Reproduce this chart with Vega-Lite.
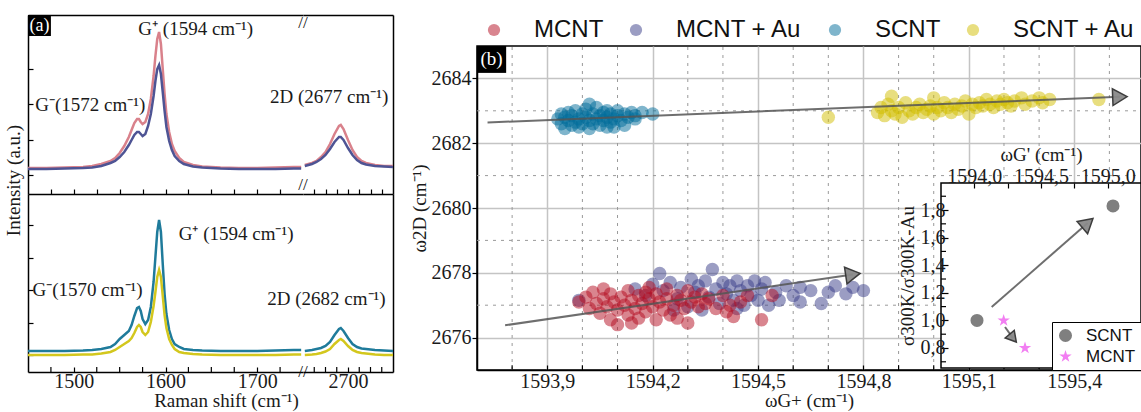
{
"$schema": "https://vega.github.io/schema/vega-lite/v6.json",
"padding": {"left": 4, "top": 12, "right": 0, "bottom": 0},
"background": "white",
"config": {
  "view": {"stroke": null},
  "axis": {"labelFont": "Liberation Serif", "titleFont": "Liberation Serif", "labelFontSize": 20, "titleFontSize": 19, "titleFontWeight": "normal", "labelColor": "#1a1a1a", "titleColor": "#1a1a1a", "domainColor": "#000", "domainWidth": 1.5, "tickColor": "#000", "tickWidth": 1.2, "grid": false, "labelOverlap": false, "labelFlush": false},
  "text": {"font": "Liberation Serif"}
},
"datasets": {
  "spectra": [
    {"shift": 1450, "MCNT": 26, "MCNT + Au": 25, "SCNT": 21, "SCNT + Au": 17},
    {"shift": 1470, "MCNT": 26, "MCNT + Au": 25, "SCNT": 21, "SCNT + Au": 17},
    {"shift": 1490, "MCNT": 26.5, "MCNT + Au": 25.5, "SCNT": 21, "SCNT + Au": 17},
    {"shift": 1510, "MCNT": 27, "MCNT + Au": 26, "SCNT": 21.5, "SCNT + Au": 17.5},
    {"shift": 1520, "MCNT": 28, "MCNT + Au": 26.5, "SCNT": 22, "SCNT + Au": 17.5},
    {"shift": 1530, "MCNT": 30, "MCNT + Au": 28, "SCNT": 23, "SCNT + Au": 18.5},
    {"shift": 1540, "MCNT": 33, "MCNT + Au": 31, "SCNT": 25, "SCNT + Au": 20},
    {"shift": 1545, "MCNT": 36, "MCNT + Au": 33, "SCNT": 28, "SCNT + Au": 22},
    {"shift": 1550, "MCNT": 41, "MCNT + Au": 37, "SCNT": 33, "SCNT + Au": 25},
    {"shift": 1555, "MCNT": 48, "MCNT + Au": 42, "SCNT": 37, "SCNT + Au": 28},
    {"shift": 1560, "MCNT": 57, "MCNT + Au": 49, "SCNT": 41, "SCNT + Au": 31},
    {"shift": 1563, "MCNT": 64, "MCNT + Au": 54, "SCNT": 47, "SCNT + Au": 34},
    {"shift": 1566, "MCNT": 71, "MCNT + Au": 59, "SCNT": 56, "SCNT + Au": 39},
    {"shift": 1569, "MCNT": 75, "MCNT + Au": 62, "SCNT": 64, "SCNT + Au": 45},
    {"shift": 1571, "MCNT": 75, "MCNT + Au": 62, "SCNT": 65, "SCNT + Au": 47},
    {"shift": 1573, "MCNT": 72, "MCNT + Au": 60, "SCNT": 61, "SCNT + Au": 45},
    {"shift": 1575, "MCNT": 70, "MCNT + Au": 58, "SCNT": 53, "SCNT + Au": 40},
    {"shift": 1578, "MCNT": 72, "MCNT + Au": 60, "SCNT": 48, "SCNT + Au": 37},
    {"shift": 1581, "MCNT": 80, "MCNT + Au": 68, "SCNT": 52, "SCNT + Au": 40},
    {"shift": 1584, "MCNT": 95, "MCNT + Au": 80, "SCNT": 65, "SCNT + Au": 50},
    {"shift": 1587, "MCNT": 118, "MCNT + Au": 98, "SCNT": 90, "SCNT + Au": 66},
    {"shift": 1589, "MCNT": 138, "MCNT + Au": 113, "SCNT": 115, "SCNT + Au": 80},
    {"shift": 1591, "MCNT": 155, "MCNT + Au": 125, "SCNT": 140, "SCNT + Au": 95},
    {"shift": 1593, "MCNT": 162, "MCNT + Au": 129, "SCNT": 152, "SCNT + Au": 102},
    {"shift": 1595, "MCNT": 150, "MCNT + Au": 120, "SCNT": 140, "SCNT + Au": 95},
    {"shift": 1597, "MCNT": 125, "MCNT + Au": 102, "SCNT": 108, "SCNT + Au": 76},
    {"shift": 1599, "MCNT": 100, "MCNT + Au": 83, "SCNT": 78, "SCNT + Au": 57},
    {"shift": 1601, "MCNT": 80, "MCNT + Au": 67, "SCNT": 58, "SCNT + Au": 44},
    {"shift": 1604, "MCNT": 62, "MCNT + Au": 53, "SCNT": 42, "SCNT + Au": 33},
    {"shift": 1607, "MCNT": 50, "MCNT + Au": 44, "SCNT": 33, "SCNT + Au": 27},
    {"shift": 1610, "MCNT": 43, "MCNT + Au": 38, "SCNT": 28, "SCNT + Au": 23},
    {"shift": 1615, "MCNT": 36, "MCNT + Au": 33, "SCNT": 25, "SCNT + Au": 20},
    {"shift": 1620, "MCNT": 32, "MCNT + Au": 30, "SCNT": 23, "SCNT + Au": 19},
    {"shift": 1630, "MCNT": 29, "MCNT + Au": 27.5, "SCNT": 22, "SCNT + Au": 18},
    {"shift": 1640, "MCNT": 27.5, "MCNT + Au": 26.5, "SCNT": 21.5, "SCNT + Au": 17.5},
    {"shift": 1660, "MCNT": 26.5, "MCNT + Au": 25.5, "SCNT": 21, "SCNT + Au": 17},
    {"shift": 1680, "MCNT": 26, "MCNT + Au": 25, "SCNT": 21, "SCNT + Au": 17},
    {"shift": 1700, "MCNT": 26, "MCNT + Au": 25, "SCNT": 21, "SCNT + Au": 17},
    {"shift": 1720, "MCNT": 26.5, "MCNT + Au": 25, "SCNT": 21.5, "SCNT + Au": 17},
    {"shift": 1740, "MCNT": 27, "MCNT + Au": 25.5, "SCNT": 22, "SCNT + Au": 17.5},
    {"shift": 1748, "MCNT": 27, "MCNT + Au": 25.5, "SCNT": 22, "SCNT + Au": 17.5},
    {"shift": 2652, "MCNT": 29, "MCNT + Au": 28, "SCNT": 21, "SCNT + Au": 17},
    {"shift": 2660, "MCNT": 31, "MCNT + Au": 30, "SCNT": 22, "SCNT + Au": 17.5},
    {"shift": 2665, "MCNT": 33, "MCNT + Au": 32, "SCNT": 23, "SCNT + Au": 18},
    {"shift": 2670, "MCNT": 37, "MCNT + Au": 35, "SCNT": 24, "SCNT + Au": 19},
    {"shift": 2675, "MCNT": 42, "MCNT + Au": 39, "SCNT": 26, "SCNT + Au": 20.5},
    {"shift": 2680, "MCNT": 50, "MCNT + Au": 45, "SCNT": 30, "SCNT + Au": 23},
    {"shift": 2685, "MCNT": 60, "MCNT + Au": 52, "SCNT": 37, "SCNT + Au": 28},
    {"shift": 2690, "MCNT": 68, "MCNT + Au": 57, "SCNT": 43, "SCNT + Au": 32},
    {"shift": 2692, "MCNT": 69, "MCNT + Au": 57, "SCNT": 44, "SCNT + Au": 33},
    {"shift": 2695, "MCNT": 65, "MCNT + Au": 54, "SCNT": 41, "SCNT + Au": 31},
    {"shift": 2700, "MCNT": 54, "MCNT + Au": 46, "SCNT": 34, "SCNT + Au": 26},
    {"shift": 2705, "MCNT": 44, "MCNT + Au": 39, "SCNT": 28, "SCNT + Au": 22},
    {"shift": 2710, "MCNT": 37, "MCNT + Au": 34, "SCNT": 25, "SCNT + Au": 20},
    {"shift": 2715, "MCNT": 33, "MCNT + Au": 31, "SCNT": 23.5, "SCNT + Au": 19},
    {"shift": 2720, "MCNT": 31, "MCNT + Au": 29.5, "SCNT": 23, "SCNT + Au": 18.5},
    {"shift": 2730, "MCNT": 29, "MCNT + Au": 28, "SCNT": 22, "SCNT + Au": 17.5},
    {"shift": 2740, "MCNT": 28, "MCNT + Au": 27.5, "SCNT": 21.5, "SCNT + Au": 17},
    {"shift": 2750, "MCNT": 28, "MCNT + Au": 27, "SCNT": 21, "SCNT + Au": 17}
  ],
  "notes": [
    {"panel": "TL", "x": 1633, "y": 165, "label": "G⁺ (1594 cm⁻¹)"},
    {"panel": "TL", "x": 1518, "y": 89, "label": "G⁻(1572 cm⁻¹)"},
    {"panel": "TR", "x": 2679, "y": 97, "label": "2D (2677 cm⁻¹)"},
    {"panel": "BL", "x": 1677, "y": 138, "label": "G⁺ (1594 cm⁻¹)"},
    {"panel": "BL", "x": 1515, "y": 82, "label": "G⁻(1570 cm⁻¹)"},
    {"panel": "BR", "x": 2676, "y": 73, "label": "2D (2682 cm⁻¹)"}
  ],
  "minorA": [{"v": 1475}, {"v": 1525}, {"v": 1550}, {"v": 1575}, {"v": 1625}, {"v": 1650}, {"v": 1675}, {"v": 1725}],
  "minorR": [{"v": 2662.5}, {"v": 2675}, {"v": 2687.5}, {"v": 2712.5}, {"v": 2725}, {"v": 2737.5}],
  "minorX": [{"v": 1593.8}, {"v": 1594.0}, {"v": 1594.1}, {"v": 1594.3}, {"v": 1594.4}, {"v": 1594.6}, {"v": 1594.7}, {"v": 1594.9}, {"v": 1595.0}, {"v": 1595.2}, {"v": 1595.3}, {"v": 1595.5}],
  "minorY": [{"v": 2677}, {"v": 2679}, {"v": 2681}, {"v": 2683}],
  "minorI": [{"v": 0.7}, {"v": 0.9}, {"v": 1.1}, {"v": 1.3}, {"v": 1.5}, {"v": 1.7}, {"v": 1.9}],
  "points": [
    {"sample": "MCNT + Au", "x": 1593.99, "y": 2677.15},
    {"sample": "MCNT + Au", "x": 1594.15, "y": 2677.5},
    {"sample": "MCNT + Au", "x": 1594.18, "y": 2677.3},
    {"sample": "MCNT + Au", "x": 1594.2, "y": 2677.65},
    {"sample": "MCNT + Au", "x": 1594.22, "y": 2677.98},
    {"sample": "MCNT + Au", "x": 1594.23, "y": 2677.45},
    {"sample": "MCNT + Au", "x": 1594.25, "y": 2677.7},
    {"sample": "MCNT + Au", "x": 1594.27, "y": 2677.2},
    {"sample": "MCNT + Au", "x": 1594.28, "y": 2677.55},
    {"sample": "MCNT + Au", "x": 1594.3, "y": 2676.95},
    {"sample": "MCNT + Au", "x": 1594.31, "y": 2677.8},
    {"sample": "MCNT + Au", "x": 1594.32, "y": 2677.4},
    {"sample": "MCNT + Au", "x": 1594.33, "y": 2677.6},
    {"sample": "MCNT + Au", "x": 1594.34, "y": 2676.85},
    {"sample": "MCNT + Au", "x": 1594.35, "y": 2677.75},
    {"sample": "MCNT + Au", "x": 1594.36, "y": 2677.25},
    {"sample": "MCNT + Au", "x": 1594.37, "y": 2678.1},
    {"sample": "MCNT + Au", "x": 1594.38, "y": 2677.5},
    {"sample": "MCNT + Au", "x": 1594.39, "y": 2677.05},
    {"sample": "MCNT + Au", "x": 1594.4, "y": 2677.7},
    {"sample": "MCNT + Au", "x": 1594.41, "y": 2677.35},
    {"sample": "MCNT + Au", "x": 1594.42, "y": 2677.6},
    {"sample": "MCNT + Au", "x": 1594.43, "y": 2677.15},
    {"sample": "MCNT + Au", "x": 1594.44, "y": 2677.75},
    {"sample": "MCNT + Au", "x": 1594.45, "y": 2677.45},
    {"sample": "MCNT + Au", "x": 1594.46, "y": 2677.0},
    {"sample": "MCNT + Au", "x": 1594.47, "y": 2677.6},
    {"sample": "MCNT + Au", "x": 1594.48, "y": 2677.3},
    {"sample": "MCNT + Au", "x": 1594.49, "y": 2677.75},
    {"sample": "MCNT + Au", "x": 1594.5, "y": 2677.15},
    {"sample": "MCNT + Au", "x": 1594.51, "y": 2677.5},
    {"sample": "MCNT + Au", "x": 1594.52, "y": 2677.7},
    {"sample": "MCNT + Au", "x": 1594.53, "y": 2677.0},
    {"sample": "MCNT + Au", "x": 1594.55, "y": 2677.4},
    {"sample": "MCNT + Au", "x": 1594.56, "y": 2677.15},
    {"sample": "MCNT + Au", "x": 1594.58, "y": 2677.6},
    {"sample": "MCNT + Au", "x": 1594.6, "y": 2677.3},
    {"sample": "MCNT + Au", "x": 1594.62, "y": 2677.55},
    {"sample": "MCNT + Au", "x": 1594.62, "y": 2677.1},
    {"sample": "MCNT + Au", "x": 1594.65, "y": 2677.45},
    {"sample": "MCNT + Au", "x": 1594.68, "y": 2677.05},
    {"sample": "MCNT + Au", "x": 1594.7, "y": 2677.4},
    {"sample": "MCNT + Au", "x": 1594.72, "y": 2677.6},
    {"sample": "MCNT + Au", "x": 1594.75, "y": 2677.35},
    {"sample": "MCNT + Au", "x": 1594.77, "y": 2677.55},
    {"sample": "MCNT + Au", "x": 1594.8, "y": 2677.45},
    {"sample": "MCNT + Au", "x": 1594.26, "y": 2676.85},
    {"sample": "MCNT + Au", "x": 1594.44, "y": 2676.9},
    {"sample": "MCNT", "x": 1593.99, "y": 2677.1},
    {"sample": "MCNT", "x": 1594.01, "y": 2677.25},
    {"sample": "MCNT", "x": 1594.02, "y": 2676.9},
    {"sample": "MCNT", "x": 1594.03, "y": 2677.4},
    {"sample": "MCNT", "x": 1594.04, "y": 2677.05},
    {"sample": "MCNT", "x": 1594.05, "y": 2676.75},
    {"sample": "MCNT", "x": 1594.06, "y": 2677.2},
    {"sample": "MCNT", "x": 1594.06, "y": 2677.5},
    {"sample": "MCNT", "x": 1594.07, "y": 2676.95},
    {"sample": "MCNT", "x": 1594.08, "y": 2677.35},
    {"sample": "MCNT", "x": 1594.08, "y": 2676.55},
    {"sample": "MCNT", "x": 1594.09, "y": 2677.1},
    {"sample": "MCNT", "x": 1594.1, "y": 2676.85},
    {"sample": "MCNT", "x": 1594.1, "y": 2676.4},
    {"sample": "MCNT", "x": 1594.11, "y": 2677.25},
    {"sample": "MCNT", "x": 1594.12, "y": 2677.0},
    {"sample": "MCNT", "x": 1594.13, "y": 2677.45},
    {"sample": "MCNT", "x": 1594.13, "y": 2676.7},
    {"sample": "MCNT", "x": 1594.14, "y": 2677.15},
    {"sample": "MCNT", "x": 1594.14, "y": 2676.45},
    {"sample": "MCNT", "x": 1594.15, "y": 2676.9},
    {"sample": "MCNT", "x": 1594.16, "y": 2677.3},
    {"sample": "MCNT", "x": 1594.16, "y": 2676.6},
    {"sample": "MCNT", "x": 1594.17, "y": 2677.05},
    {"sample": "MCNT", "x": 1594.18, "y": 2677.4},
    {"sample": "MCNT", "x": 1594.18, "y": 2676.8},
    {"sample": "MCNT", "x": 1594.19, "y": 2677.2},
    {"sample": "MCNT", "x": 1594.19, "y": 2677.55},
    {"sample": "MCNT", "x": 1594.2, "y": 2676.95},
    {"sample": "MCNT", "x": 1594.21, "y": 2677.35},
    {"sample": "MCNT", "x": 1594.21, "y": 2676.55},
    {"sample": "MCNT", "x": 1594.22, "y": 2677.1},
    {"sample": "MCNT", "x": 1594.23, "y": 2676.85},
    {"sample": "MCNT", "x": 1594.24, "y": 2677.5},
    {"sample": "MCNT", "x": 1594.24, "y": 2677.2},
    {"sample": "MCNT", "x": 1594.25, "y": 2676.7},
    {"sample": "MCNT", "x": 1594.26, "y": 2677.0},
    {"sample": "MCNT", "x": 1594.27, "y": 2677.3},
    {"sample": "MCNT", "x": 1594.27, "y": 2676.6},
    {"sample": "MCNT", "x": 1594.28, "y": 2677.15},
    {"sample": "MCNT", "x": 1594.29, "y": 2676.9},
    {"sample": "MCNT", "x": 1594.3, "y": 2677.45},
    {"sample": "MCNT", "x": 1594.3, "y": 2676.45},
    {"sample": "MCNT", "x": 1594.31, "y": 2677.1},
    {"sample": "MCNT", "x": 1594.32, "y": 2677.25},
    {"sample": "MCNT", "x": 1594.33, "y": 2676.95},
    {"sample": "MCNT", "x": 1594.34, "y": 2677.35},
    {"sample": "MCNT", "x": 1594.35, "y": 2677.05},
    {"sample": "MCNT", "x": 1594.36, "y": 2677.2},
    {"sample": "MCNT", "x": 1594.38, "y": 2676.9},
    {"sample": "MCNT", "x": 1594.4, "y": 2677.3},
    {"sample": "MCNT", "x": 1594.41, "y": 2676.8},
    {"sample": "MCNT", "x": 1594.42, "y": 2677.0},
    {"sample": "MCNT", "x": 1594.43, "y": 2676.65},
    {"sample": "MCNT", "x": 1594.45, "y": 2677.1},
    {"sample": "MCNT", "x": 1594.47, "y": 2677.3},
    {"sample": "MCNT", "x": 1594.51, "y": 2676.55},
    {"sample": "MCNT", "x": 1594.54, "y": 2677.3},
    {"sample": "SCNT", "x": 1593.93, "y": 2682.75},
    {"sample": "SCNT", "x": 1593.94, "y": 2682.9},
    {"sample": "SCNT", "x": 1593.94, "y": 2682.6},
    {"sample": "SCNT", "x": 1593.95, "y": 2682.45},
    {"sample": "SCNT", "x": 1593.95, "y": 2682.8},
    {"sample": "SCNT", "x": 1593.96, "y": 2682.7},
    {"sample": "SCNT", "x": 1593.96, "y": 2682.95},
    {"sample": "SCNT", "x": 1593.97, "y": 2682.55},
    {"sample": "SCNT", "x": 1593.97, "y": 2682.85},
    {"sample": "SCNT", "x": 1593.98, "y": 2682.65},
    {"sample": "SCNT", "x": 1593.98, "y": 2683.0},
    {"sample": "SCNT", "x": 1593.99, "y": 2682.75},
    {"sample": "SCNT", "x": 1593.99, "y": 2682.5},
    {"sample": "SCNT", "x": 1594.0, "y": 2682.9},
    {"sample": "SCNT", "x": 1594.0, "y": 2682.6},
    {"sample": "SCNT", "x": 1594.01, "y": 2682.8},
    {"sample": "SCNT", "x": 1594.01, "y": 2683.05},
    {"sample": "SCNT", "x": 1594.02, "y": 2682.7},
    {"sample": "SCNT", "x": 1594.02, "y": 2682.45},
    {"sample": "SCNT", "x": 1594.02, "y": 2683.2},
    {"sample": "SCNT", "x": 1594.03, "y": 2682.9},
    {"sample": "SCNT", "x": 1594.03, "y": 2682.6},
    {"sample": "SCNT", "x": 1594.04, "y": 2683.1},
    {"sample": "SCNT", "x": 1594.04, "y": 2682.75},
    {"sample": "SCNT", "x": 1594.05, "y": 2682.85},
    {"sample": "SCNT", "x": 1594.05, "y": 2682.55},
    {"sample": "SCNT", "x": 1594.06, "y": 2682.95},
    {"sample": "SCNT", "x": 1594.06, "y": 2682.7},
    {"sample": "SCNT", "x": 1594.07, "y": 2682.8},
    {"sample": "SCNT", "x": 1594.07, "y": 2683.0},
    {"sample": "SCNT", "x": 1594.07, "y": 2682.5},
    {"sample": "SCNT", "x": 1594.08, "y": 2682.65},
    {"sample": "SCNT", "x": 1594.08, "y": 2682.9},
    {"sample": "SCNT", "x": 1594.09, "y": 2682.75},
    {"sample": "SCNT", "x": 1594.09, "y": 2682.5},
    {"sample": "SCNT", "x": 1594.1, "y": 2682.85},
    {"sample": "SCNT", "x": 1594.1, "y": 2683.0},
    {"sample": "SCNT", "x": 1594.11, "y": 2682.7},
    {"sample": "SCNT", "x": 1594.12, "y": 2682.9},
    {"sample": "SCNT", "x": 1594.12, "y": 2682.55},
    {"sample": "SCNT", "x": 1594.13, "y": 2682.8},
    {"sample": "SCNT", "x": 1594.14, "y": 2682.95},
    {"sample": "SCNT", "x": 1594.15, "y": 2682.75},
    {"sample": "SCNT", "x": 1594.15, "y": 2682.85},
    {"sample": "SCNT", "x": 1594.17, "y": 2682.95},
    {"sample": "SCNT", "x": 1594.2, "y": 2682.9},
    {"sample": "SCNT + Au", "x": 1594.7, "y": 2682.8},
    {"sample": "SCNT + Au", "x": 1594.84, "y": 2682.95},
    {"sample": "SCNT + Au", "x": 1594.85, "y": 2683.1},
    {"sample": "SCNT + Au", "x": 1594.86, "y": 2682.85},
    {"sample": "SCNT + Au", "x": 1594.87, "y": 2683.2},
    {"sample": "SCNT + Au", "x": 1594.88, "y": 2683.0},
    {"sample": "SCNT + Au", "x": 1594.88, "y": 2683.45},
    {"sample": "SCNT + Au", "x": 1594.89, "y": 2682.9},
    {"sample": "SCNT + Au", "x": 1594.9, "y": 2683.1},
    {"sample": "SCNT + Au", "x": 1594.91, "y": 2682.8},
    {"sample": "SCNT + Au", "x": 1594.92, "y": 2683.25},
    {"sample": "SCNT + Au", "x": 1594.93, "y": 2683.0},
    {"sample": "SCNT + Au", "x": 1594.94, "y": 2682.9},
    {"sample": "SCNT + Au", "x": 1594.95, "y": 2683.1},
    {"sample": "SCNT + Au", "x": 1594.96, "y": 2683.2},
    {"sample": "SCNT + Au", "x": 1594.97, "y": 2682.95},
    {"sample": "SCNT + Au", "x": 1594.98, "y": 2683.05},
    {"sample": "SCNT + Au", "x": 1594.99, "y": 2683.15},
    {"sample": "SCNT + Au", "x": 1595.0, "y": 2682.9},
    {"sample": "SCNT + Au", "x": 1595.0, "y": 2683.4},
    {"sample": "SCNT + Au", "x": 1595.01, "y": 2683.1},
    {"sample": "SCNT + Au", "x": 1595.02, "y": 2683.0},
    {"sample": "SCNT + Au", "x": 1595.03, "y": 2683.25},
    {"sample": "SCNT + Au", "x": 1595.04, "y": 2683.1},
    {"sample": "SCNT + Au", "x": 1595.05, "y": 2682.95},
    {"sample": "SCNT + Au", "x": 1595.06, "y": 2683.2},
    {"sample": "SCNT + Au", "x": 1595.07, "y": 2683.05},
    {"sample": "SCNT + Au", "x": 1595.08, "y": 2683.15},
    {"sample": "SCNT + Au", "x": 1595.09, "y": 2683.3},
    {"sample": "SCNT + Au", "x": 1595.1, "y": 2682.9},
    {"sample": "SCNT + Au", "x": 1595.11, "y": 2683.2},
    {"sample": "SCNT + Au", "x": 1595.12, "y": 2683.1},
    {"sample": "SCNT + Au", "x": 1595.13, "y": 2683.25},
    {"sample": "SCNT + Au", "x": 1595.14, "y": 2683.15},
    {"sample": "SCNT + Au", "x": 1595.15, "y": 2683.35},
    {"sample": "SCNT + Au", "x": 1595.16, "y": 2683.2},
    {"sample": "SCNT + Au", "x": 1595.17, "y": 2683.1},
    {"sample": "SCNT + Au", "x": 1595.18, "y": 2683.3},
    {"sample": "SCNT + Au", "x": 1595.19, "y": 2683.2},
    {"sample": "SCNT + Au", "x": 1595.2, "y": 2683.35},
    {"sample": "SCNT + Au", "x": 1595.21, "y": 2683.25},
    {"sample": "SCNT + Au", "x": 1595.22, "y": 2683.15},
    {"sample": "SCNT + Au", "x": 1595.23, "y": 2683.3},
    {"sample": "SCNT + Au", "x": 1595.25, "y": 2683.4},
    {"sample": "SCNT + Au", "x": 1595.26, "y": 2683.2},
    {"sample": "SCNT + Au", "x": 1595.28, "y": 2683.3},
    {"sample": "SCNT + Au", "x": 1595.3, "y": 2683.4},
    {"sample": "SCNT + Au", "x": 1595.31, "y": 2683.25},
    {"sample": "SCNT + Au", "x": 1595.33, "y": 2683.35},
    {"sample": "SCNT + Au", "x": 1595.47, "y": 2683.35}
  ],
  "arrows": [
    {"where": "main", "trend": "SCNT", "pt": "start", "x": 1593.73, "y": 2682.64},
    {"where": "main", "trend": "SCNT", "pt": "end", "x": 1595.53, "y": 2683.43},
    {"where": "main", "trend": "MCNT", "pt": "start", "x": 1593.78, "y": 2676.38},
    {"where": "main", "trend": "MCNT", "pt": "end", "x": 1594.77, "y": 2677.95},
    {"where": "inset", "trend": "SCNT", "pt": "start", "x": 1594.13, "y": 1.097},
    {"where": "inset", "trend": "SCNT", "pt": "end", "x": 1594.85, "y": 1.706},
    {"where": "inset", "trend": "MCNT", "pt": "start", "x": 1594.23, "y": 0.952},
    {"where": "inset", "trend": "MCNT", "pt": "end", "x": 1594.29, "y": 0.872}
  ],
  "inset": [
    {"sample": "SCNT", "x": 1594.02, "y": 1.0},
    {"sample": "SCNT", "x": 1595.04, "y": 1.83},
    {"sample": "MCNT", "x": 1594.22, "y": 1.0},
    {"sample": "MCNT", "x": 1594.38, "y": 0.8}
  ]
},
"hconcat": [
  {
    "concat": [
      {
        "width": 275, "height": 179,
        "layer": [
          {
            "data": {"name": "spectra"},
            "transform": [{"fold": ["MCNT", "MCNT + Au"], "as": ["sample", "intensity"]}, {"filter": "datum.shift < 2000"}],
            "mark": {"type": "line", "strokeWidth": 2.5},
            "encoding": {
              "x": {"field": "shift", "type": "quantitative", "scale": {"domain": [1450, 1750], "nice": false, "zero": false},
                    "axis": {"orient": "bottom", "values": [1475, 1500, 1525, 1550, 1575, 1600, 1625, 1650, 1675, 1700, 1725], "labels": false, "tickSize": -5, "title": null}},
              "y": {"field": "intensity", "type": "quantitative", "scale": {"domain": [0, 179], "nice": false, "zero": false},
                    "axis": {"orient": "left", "values": [19, 36, 54, 72, 90, 107, 125, 144, 162], "labels": false, "tickSize": -5, "title": "Intensity (a.u.)", "titleY": 165, "titlePadding": 4}},
              "color": {"field": "sample", "type": "nominal", "scale": {"domain": ["MCNT", "MCNT + Au"], "range": ["#d9818b", "#4e5494"]}, "legend": null}
            }
          },
          {
            "data": {"name": "notes"},
            "transform": [{"filter": "datum.panel == 'TL'"}],
            "mark": {"type": "text", "fontSize": 19, "color": "#1a1a1a"},
            "encoding": {
              "x": {"field": "x", "type": "quantitative", "scale": {"domain": [1450, 1750], "nice": false, "zero": false}, "axis": {"orient": "top", "labels": false, "ticks": false, "title": null}},
              "y": {"field": "y", "type": "quantitative"},
              "text": {"field": "label"}
            }
          },
          {
            "data": {"values": [{}]},
            "mark": {"type": "rect", "color": "#000"},
            "encoding": {
              "x": {"datum": 1450, "type": "quantitative", "axis": null}, "x2": {"datum": 1475},
              "y": {"datum": 179, "type": "quantitative"}, "y2": {"datum": 158}
            }
          },
          {
            "data": {"values": [{}]},
            "mark": {"type": "text", "text": "(a)", "color": "white", "fontSize": 18},
            "encoding": {
              "x": {"datum": 1462.5, "type": "quantitative", "axis": null},
              "y": {"datum": 168.5, "type": "quantitative"}
            }
          },
          {
            "data": {"values": [{}]},
            "mark": {"type": "text", "text": "//", "fontSize": 17, "baseline": "top", "color": "#111"},
            "encoding": {
              "x": {"datum": 1750, "type": "quantitative", "axis": null},
              "y": {"datum": 179, "type": "quantitative"}
            }
          },
          {
            "data": {"values": [{}]},
            "mark": {"type": "text", "text": "//", "fontSize": 17, "baseline": "bottom", "color": "#111"},
            "encoding": {
              "x": {"datum": 1750, "type": "quantitative", "axis": null},
              "y": {"datum": 0, "type": "quantitative"}
            }
          }
        ],
        "resolve": {"axis": {"x": "independent"}}
      },
      {
        "width": 90, "height": 179,
        "layer": [
          {
            "data": {"name": "spectra"},
            "transform": [{"fold": ["MCNT", "MCNT + Au"], "as": ["sample", "intensity"]}, {"filter": "datum.shift > 2000"}],
            "mark": {"type": "line", "strokeWidth": 2.5},
            "encoding": {
              "x": {"field": "shift", "type": "quantitative", "scale": {"domain": [2650, 2750], "nice": false, "zero": false},
                    "axis": {"orient": "bottom", "values": [2662.5, 2675, 2687.5, 2700, 2712.5, 2725, 2737.5], "labels": false, "tickSize": -5, "title": null}},
              "y": {"field": "intensity", "type": "quantitative", "scale": {"domain": [0, 179], "nice": false, "zero": false},
                    "axis": {"orient": "right", "labels": false, "ticks": false, "title": null}},
              "color": {"field": "sample", "type": "nominal", "scale": {"domain": ["MCNT", "MCNT + Au"], "range": ["#d9818b", "#4e5494"]}, "legend": null}
            }
          },
          {
            "data": {"name": "notes"},
            "transform": [{"filter": "datum.panel == 'TR'"}],
            "mark": {"type": "text", "fontSize": 19, "color": "#1a1a1a"},
            "encoding": {
              "x": {"field": "x", "type": "quantitative", "scale": {"domain": [2650, 2750], "nice": false, "zero": false}, "axis": {"orient": "top", "labels": false, "ticks": false, "title": null}},
              "y": {"field": "y", "type": "quantitative"},
              "text": {"field": "label"}
            }
          }
        ],
        "resolve": {"axis": {"x": "independent"}}
      },
      {
        "width": 275, "height": 178,
        "layer": [
          {
            "data": {"name": "spectra"},
            "transform": [{"fold": ["SCNT", "SCNT + Au"], "as": ["sample", "intensity"]}, {"filter": "datum.shift < 2000"}],
            "mark": {"type": "line", "strokeWidth": 2.5},
            "encoding": {
              "x": {"field": "shift", "type": "quantitative", "scale": {"domain": [1450, 1750], "nice": false, "zero": false},
                    "axis": {"orient": "bottom", "values": [1500, 1600, 1700], "format": "d", "tickSize": -5, "labelPadding": 4, "title": "Raman shift (cm⁻¹)", "titleX": 198, "titlePadding": 0}},
              "y": {"field": "intensity", "type": "quantitative", "scale": {"domain": [0, 178], "nice": false, "zero": false},
                    "axis": {"orient": "left", "values": [17, 33, 49, 65, 82, 98, 114, 130, 147, 163], "labels": false, "tickSize": -5, "title": null}},
              "color": {"field": "sample", "type": "nominal", "scale": {"domain": ["SCNT", "SCNT + Au"], "range": ["#1f7b9b", "#d3c71d"]}, "legend": null}
            }
          },
          {
            "data": {"name": "minorA"},
            "mark": {"type": "rule", "color": "#000", "strokeWidth": 1.2},
            "encoding": {
              "x": {"field": "v", "type": "quantitative"},
              "y": {"datum": 0, "type": "quantitative"}, "y2": {"datum": 5}
            }
          },
          {
            "data": {"name": "notes"},
            "transform": [{"filter": "datum.panel == 'BL'"}],
            "mark": {"type": "text", "fontSize": 19, "color": "#1a1a1a"},
            "encoding": {
              "x": {"field": "x", "type": "quantitative"},
              "y": {"field": "y", "type": "quantitative"},
              "text": {"field": "label"}
            }
          },
          {
            "data": {"values": [{}]},
            "mark": {"type": "text", "text": "//", "fontSize": 17, "baseline": "middle", "color": "#111"},
            "encoding": {
              "x": {"datum": 1750, "type": "quantitative"},
              "y": {"datum": 0, "type": "quantitative"}
            }
          }
        ]
      },
      {
        "width": 90, "height": 178,
        "layer": [
          {
            "data": {"name": "spectra"},
            "transform": [{"fold": ["SCNT", "SCNT + Au"], "as": ["sample", "intensity"]}, {"filter": "datum.shift > 2000"}],
            "mark": {"type": "line", "strokeWidth": 2.5},
            "encoding": {
              "x": {"field": "shift", "type": "quantitative", "scale": {"domain": [2650, 2750], "nice": false, "zero": false},
                    "axis": {"orient": "bottom", "values": [2700], "format": "d", "tickSize": -5, "labelPadding": 4, "title": null}},
              "y": {"field": "intensity", "type": "quantitative", "scale": {"domain": [0, 178], "nice": false, "zero": false},
                    "axis": {"orient": "right", "labels": false, "ticks": false, "title": null}},
              "color": {"field": "sample", "type": "nominal", "scale": {"domain": ["SCNT", "SCNT + Au"], "range": ["#1f7b9b", "#d3c71d"]}, "legend": null}
            }
          },
          {
            "data": {"name": "minorR"},
            "mark": {"type": "rule", "color": "#000", "strokeWidth": 1.2},
            "encoding": {
              "x": {"field": "v", "type": "quantitative"},
              "y": {"datum": 0, "type": "quantitative"}, "y2": {"datum": 5}
            }
          },
          {
            "data": {"name": "notes"},
            "transform": [{"filter": "datum.panel == 'BR'"}],
            "mark": {"type": "text", "fontSize": 19, "color": "#1a1a1a"},
            "encoding": {
              "x": {"field": "x", "type": "quantitative"},
              "y": {"field": "y", "type": "quantitative"},
              "text": {"field": "label"}
            }
          }
        ]
      }
    ],
    "columns": 2, "spacing": 0, "bounds": "flush",
    "resolve": {"scale": {"color": "independent"}}
  },
  {
    "vconcat": [
      {
        "width": 1, "height": 1,
        "data": {"values": [{}]},
        "mark": {"type": "point", "opacity": 0}
      },
      {
        "width": 664, "height": 324,
        "view": {"stroke": "#000", "strokeWidth": 1.5},
        "layer": [
          {
            "layer": [
              {
                "data": {"name": "minorX"},
                "mark": {"type": "rule", "color": "#9a9a9a", "strokeWidth": 1, "strokeDash": [3, 5]},
                "encoding": {
                  "x": {"field": "v", "type": "quantitative", "scale": {"domain": [1593.7, 1595.59], "nice": false, "zero": false}},
                  "y": {"datum": 2675, "type": "quantitative", "scale": {"domain": [2675, 2685], "nice": false, "zero": false}}, "y2": {"datum": 2685}
                }
              },
              {
                "data": {"name": "minorY"},
                "mark": {"type": "rule", "color": "#9a9a9a", "strokeWidth": 1, "strokeDash": [3, 5]},
                "encoding": {
                  "y": {"field": "v", "type": "quantitative"},
                  "x": {"datum": 1593.7, "type": "quantitative"}, "x2": {"datum": 1595.59}
                }
              },
              {
                "data": {"name": "minorX"},
                "mark": {"type": "rule", "color": "#000", "strokeWidth": 1.2},
                "encoding": {
                  "x": {"field": "v", "type": "quantitative"},
                  "y": {"datum": 2675, "type": "quantitative"}, "y2": {"datum": 2675.15}
                }
              },
              {
                "data": {"name": "points"},
                "mark": {"type": "circle", "size": 180, "opacity": 0.5},
                "encoding": {
                  "x": {"field": "x", "type": "quantitative", "scale": {"domain": [1593.7, 1595.59], "nice": false, "zero": false},
                        "axis": {"orient": "bottom", "values": [1593.9, 1594.2, 1594.5, 1594.8, 1595.1, 1595.4],
                                 "labelExpr": "replace(format(datum.value, '.1f'), '.', ',')",
                                 "tickSize": -5, "labelPadding": 6, "grid": true, "gridColor": "#c4c4c4", "gridWidth": 1.5,
                                 "title": "ωG+ (cm⁻¹)", "titlePadding": 0}},
                  "y": {"field": "y", "type": "quantitative", "scale": {"domain": [2675, 2685], "nice": false, "zero": false},
                        "axis": {"orient": "left", "values": [2676, 2678, 2680, 2682, 2684], "format": "d",
                                 "tickSize": 5, "labelPadding": 1, "grid": true, "gridColor": "#c4c4c4", "gridWidth": 1.5,
                                 "title": "ω2D (cm⁻¹)", "titlePadding": 2}},
                  "color": {"field": "sample", "type": "nominal",
                            "scale": {"domain": ["MCNT", "MCNT + Au", "SCNT", "SCNT + Au"], "range": ["#b30b1f", "#373b87", "#006b99", "#d1bd00"]},
                            "legend": {"orient": "none", "legendX": 1, "legendY": -32, "direction": "horizontal", "columns": 4, "title": null,
                                       "labelFont": "Liberation Sans", "labelFontSize": 24, "labelColor": "#111",
                                       "symbolType": "circle", "symbolSize": 150, "symbolOpacity": 0.5, "symbolStrokeWidth": 0,
                                       "labelOffset": 28, "columnPadding": 20, "padding": 4}}
                }
              },
              {
                "data": {"name": "arrows"},
                "transform": [{"filter": "datum.where == 'main'"}],
                "mark": {"type": "line", "color": "#555", "strokeWidth": 2, "opacity": 0.85},
                "encoding": {
                  "x": {"field": "x", "type": "quantitative"},
                  "y": {"field": "y", "type": "quantitative"},
                  "detail": {"field": "trend"}
                }
              },
              {
                "data": {"name": "arrows"},
                "transform": [{"filter": "datum.where == 'main' && datum.trend == 'SCNT' && datum.pt == 'end'"}],
                "mark": {"type": "point", "shape": "triangle-right", "angle": -2.3, "size": 280, "filled": true, "fill": "#8a8a8a", "stroke": "#333", "strokeWidth": 1.5, "opacity": 0.95},
                "encoding": {
                  "x": {"field": "x", "type": "quantitative"},
                  "y": {"field": "y", "type": "quantitative"}
                }
              },
              {
                "data": {"name": "arrows"},
                "transform": [{"filter": "datum.where == 'main' && datum.trend == 'MCNT' && datum.pt == 'end'"}],
                "mark": {"type": "point", "shape": "triangle-right", "angle": -8.5, "size": 280, "filled": true, "fill": "#8a8a8a", "stroke": "#333", "strokeWidth": 1.5, "opacity": 0.95},
                "encoding": {
                  "x": {"field": "x", "type": "quantitative"},
                  "y": {"field": "y", "type": "quantitative"}
                }
              },
              {
                "data": {"values": [{}]},
                "mark": {"type": "rect", "color": "#000"},
                "encoding": {
                  "x": {"datum": 1593.7, "type": "quantitative"}, "x2": {"datum": 1593.783},
                  "y": {"datum": 2685, "type": "quantitative"}, "y2": {"datum": 2684.17}
                }
              },
              {
                "data": {"values": [{}]},
                "mark": {"type": "text", "text": "(b)", "color": "white", "fontSize": 19},
                "encoding": {
                  "x": {"datum": 1593.7415, "type": "quantitative"},
                  "y": {"datum": 2684.585, "type": "quantitative"}
                }
              }
            ]
          },
          {
            "layer": [
              {
                "data": {"values": [{}]},
                "mark": {"type": "rect", "fill": "white", "stroke": "#000", "strokeWidth": 1.5},
                "encoding": {
                  "x": {"datum": 1593.75, "type": "quantitative", "scale": {"domain": [1593.75, 1595.25], "range": [464, 664], "nice": false, "zero": false}},
                  "x2": {"datum": 1595.25},
                  "y": {"datum": 0.655, "type": "quantitative", "scale": {"domain": [0.655, 1.996], "range": [322, 137], "nice": false, "zero": false}},
                  "y2": {"datum": 1.996}
                }
              },
              {
                "data": {"name": "minorI"},
                "mark": {"type": "rule", "color": "#000", "strokeWidth": 1.2},
                "encoding": {
                  "y": {"field": "v", "type": "quantitative"},
                  "x": {"datum": 1593.75, "type": "quantitative"}, "x2": {"datum": 1593.7875}
                }
              },
              {
                "data": {"name": "arrows"},
                "transform": [{"filter": "datum.where == 'inset'"}],
                "mark": {"type": "line", "color": "#555", "strokeWidth": 2, "opacity": 0.85},
                "encoding": {
                  "x": {"field": "x", "type": "quantitative"},
                  "y": {"field": "y", "type": "quantitative"},
                  "detail": {"field": "trend"}
                }
              },
              {
                "data": {"name": "arrows"},
                "transform": [{"filter": "datum.where == 'inset' && datum.trend == 'SCNT' && datum.pt == 'end'"}],
                "mark": {"type": "point", "shape": "triangle-right", "angle": -40.6, "size": 260, "filled": true, "fill": "#8a8a8a", "stroke": "#333", "strokeWidth": 1.5, "opacity": 0.95},
                "encoding": {
                  "x": {"field": "x", "type": "quantitative"},
                  "y": {"field": "y", "type": "quantitative"}
                }
              },
              {
                "data": {"name": "arrows"},
                "transform": [{"filter": "datum.where == 'inset' && datum.trend == 'MCNT' && datum.pt == 'end'"}],
                "mark": {"type": "point", "shape": "triangle-right", "angle": 50, "size": 140, "filled": true, "fill": "#8a8a8a", "stroke": "#333", "strokeWidth": 1.5, "opacity": 0.95},
                "encoding": {
                  "x": {"field": "x", "type": "quantitative"},
                  "y": {"field": "y", "type": "quantitative"}
                }
              },
              {
                "data": {"name": "inset"},
                "mark": {"type": "point", "filled": true, "size": 170, "opacity": 1},
                "encoding": {
                  "x": {"field": "x", "type": "quantitative",
                        "axis": {"orient": "top", "offset": -137, "values": [1594, 1594.25, 1594.5, 1594.75, 1595],
                                 "labelExpr": "round(datum.value*4) % 2 == 0 ? replace(format(datum.value, '.1f'), '.', ',') : ''",
                                 "tickSize": -5, "labelPadding": 2, "domain": false, "title": "ωG' (cm⁻¹)", "titlePadding": 2, "zindex": 1, "grid": false}},
                  "y": {"field": "y", "type": "quantitative",
                        "axis": {"orient": "left", "offset": -464, "values": [0.8, 1.0, 1.2, 1.4, 1.6, 1.8],
                                 "labelExpr": "replace(format(datum.value, '.1f'), '.', ',')",
                                 "tickSize": -7, "labelPadding": 3, "domain": false, "title": "σ300K/σ300K-Au", "titlePadding": 3, "zindex": 1, "grid": false}},
                  "color": {"field": "sample", "type": "nominal", "scale": {"domain": ["SCNT", "MCNT"], "range": ["#7f7f7f", "#f27ef2"]},
                            "legend": {"orient": "bottom-right", "offset": 0, "title": null, "fillColor": "white", "strokeColor": "#000", "padding": 5,
                                       "labelFont": "Liberation Sans", "labelFontSize": 17, "labelColor": "#111", "symbolSize": 170, "symbolOpacity": 1, "symbolStrokeWidth": 0, "labelOffset": 12, "rowPadding": 3}},
                  "shape": {"field": "sample", "type": "nominal", "scale": {"domain": ["SCNT", "MCNT"], "range": ["circle", "M0,-1L0.2245,-0.309L0.951,-0.309L0.363,0.118L0.588,0.809L0,0.382L-0.588,0.809L-0.363,0.118L-0.951,-0.309L-0.2245,-0.309Z"]},
                            "legend": {"orient": "bottom-right", "offset": 0, "title": null, "fillColor": "white", "strokeColor": "#000", "padding": 5,
                                       "labelFont": "Liberation Sans", "labelFontSize": 17, "labelColor": "#111", "symbolSize": 170, "symbolOpacity": 1, "symbolStrokeWidth": 0, "labelOffset": 12, "rowPadding": 3}}
                }
              }
            ]
          }
        ],
        "resolve": {
          "scale": {"x": "independent", "y": "independent", "color": "independent", "shape": "independent"},
          "axis": {"x": "independent", "y": "independent"},
          "legend": {"color": "independent", "shape": "independent"}
        }
      }
    ],
    "spacing": -6
  }
],
"spacing": 11,
"resolve": {"scale": {"color": "independent", "shape": "independent"}}
}
